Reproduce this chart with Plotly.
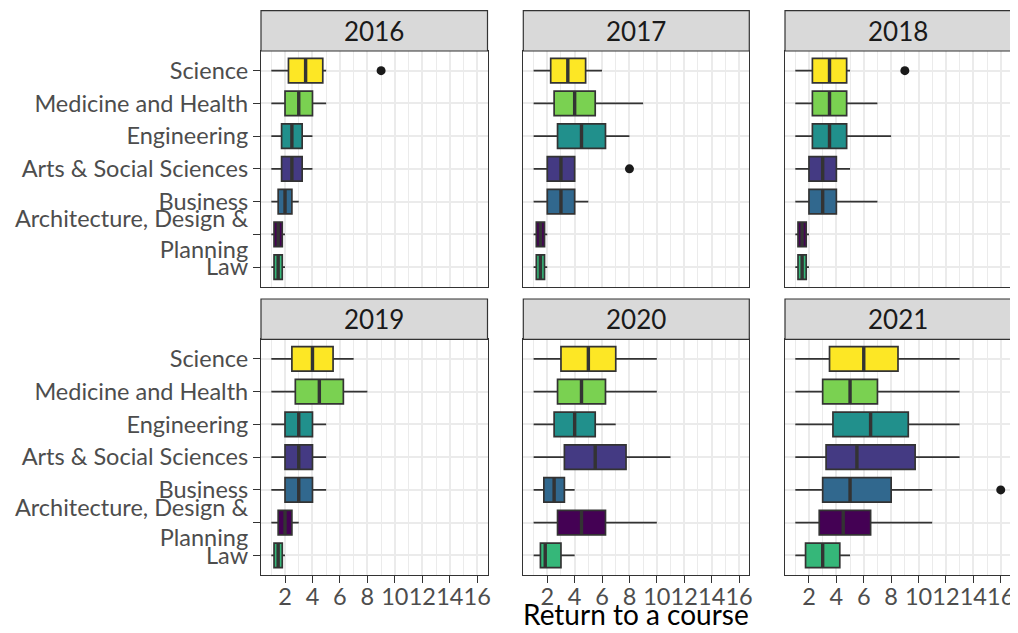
import plotly.graph_objects as go

# ---------------- data ----------------
years = [2016, 2017, 2018, 2019, 2020, 2021]
categories = ["Science", "Medicine and Health", "Engineering", "Arts & Social Sciences",
              "Business", "Architecture, Design & Planning", "Law"]
tick_labels = ["Science", "Medicine and Health", "Engineering", "Arts & Social Sciences",
               "Business", "Architecture, Design &<br>Planning", "Law"]
colors = ["#FDE725", "#7AD151", "#21908C", "#443A83", "#31688E", "#440154", "#35B779"]

# per year, per category (same order as categories): lower whisker, q1, median, q3, upper whisker
lower = {
    2016: [1, 1, 1, 1, 1, 1, 1],
    2017: [1, 1, 1, 1, 1, 1, 1],
    2018: [1, 1, 1, 1, 1, 1, 1],
    2019: [1, 1, 1, 1, 1, 1, 1],
    2020: [1, 1, 1, 1, 1, 1, 1],
    2021: [1, 1, 1, 1, 1, 1, 1],
}
q1 = {
    2016: [2.25, 2, 1.75, 1.75, 1.5, 1.2, 1.2],
    2017: [2.25, 2.5, 2.75, 2, 2, 1.2, 1.2],
    2018: [2.25, 2.25, 2.25, 2, 2, 1.2, 1.2],
    2019: [2.5, 2.75, 2, 2, 2, 1.5, 1.2],
    2020: [3, 2.75, 2.5, 3.25, 1.75, 2.75, 1.5],
    2021: [3.5, 3, 3.75, 3.25, 3, 2.75, 1.75],
}
median = {
    2016: [3.5, 3, 2.5, 2.5, 2, 1.5, 1.5],
    2017: [3.5, 4, 4.5, 3, 3, 1.5, 1.5],
    2018: [3.5, 3.5, 3.5, 3, 3, 1.5, 1.5],
    2019: [4, 4.5, 3, 3, 3, 2, 1.5],
    2020: [5, 4.5, 4, 5.5, 2.5, 4.5, 1.85],
    2021: [6, 5, 6.5, 5.5, 5, 4.5, 3],
}
q3 = {
    2016: [4.75, 4, 3.25, 3.25, 2.5, 1.8, 1.8],
    2017: [4.8, 5.5, 6.25, 4, 4, 1.8, 1.8],
    2018: [4.75, 4.75, 4.75, 4, 4, 1.8, 1.8],
    2019: [5.5, 6.25, 4, 4, 4, 2.5, 1.8],
    2020: [7, 6.25, 5.5, 7.75, 3.25, 6.25, 3],
    2021: [8.5, 7, 9.25, 9.75, 8, 6.5, 4.25],
}
upper = {
    2016: [5, 5, 4, 4, 3, 2, 2],
    2017: [6, 9, 8, 4, 5, 2, 2],
    2018: [5, 7, 8, 5, 7, 2, 2],
    2019: [7, 8, 5, 5, 5, 3, 2],
    2020: [10, 10, 7, 11, 4, 10, 4],
    2021: [13, 13, 13, 13, 11, 11, 5],
}
# outliers: (year, category, value)
outlier_year = [2016, 2017, 2018, 2021]
outlier_cat = ["Science", "Arts & Social Sciences", "Science", "Business"]
outlier_val = [9, 8, 9, 16]

x_ticks = [2, 4, 6, 8, 10, 12, 14, 16]
x_minor = [1, 3, 5, 7, 9, 11, 13, 15]

# ---------------- layout geometry ----------------
# the page body adds an 8px margin, so the figure is 8px smaller and coordinates shifted
OFF = 8
W, H = 1018 - OFF, 633 - OFF
cols_px = [(261 - OFF, 487.5 - OFF), (523.3 - OFF, 749.3 - OFF), (785 - OFF, 1011 - OFF)]
rows_px = [(51 - OFF, 286.7 - OFF), (339.3 - OFF, 575 - OFF)]
strips_px = [(10.7 - OFF, 51 - OFF), (299 - OFF, 339.3 - OFF)]

n_cat = len(categories)
pos = {c: n_cat - 1 - i for i, c in enumerate(categories)}
box_w = 0.75

BORDER = "#333333"
GRID = "#EBEBEB"
FONT = "Lato"
TICK_SIZE = 23.5

fig = go.Figure()
layout = dict(
    template="none",
    width=W, height=H,
    margin=dict(l=0, r=0, t=0, b=0, autoexpand=False),
    paper_bgcolor="white", plot_bgcolor="white",
    showlegend=False,
    font=dict(family=FONT),
    shapes=[], annotations=[],
)

for k, yr in enumerate(years):
    r, c = divmod(k, 3)
    n = k + 1
    xa = "x" if n == 1 else f"x{n}"
    ya = "y" if n == 1 else f"y{n}"
    # boxes
    for i, cat in enumerate(categories):
        p = pos[cat]
        fig.add_trace(go.Box(
            y=[p], q1=[q1[yr][i]], median=[median[yr][i]], q3=[q3[yr][i]],
            lowerfence=[lower[yr][i]], upperfence=[upper[yr][i]],
            orientation="h", width=box_w, whiskerwidth=0,
            fillcolor=colors[i], line=dict(color=BORDER, width=1.7),
            boxpoints=False, hoverinfo="skip", xaxis=xa, yaxis=ya,
        ))
        # thicker median line (ggplot fatten)
        fig.add_trace(go.Scatter(
            x=[median[yr][i], median[yr][i]], y=[p - box_w / 2, p + box_w / 2],
            mode="lines", line=dict(color=BORDER, width=3.4),
            hoverinfo="skip", xaxis=xa, yaxis=ya,
        ))
    # outliers
    ox = [v for y_, v in zip(outlier_year, outlier_val) if y_ == yr]
    oy = [pos[cname] for y_, cname in zip(outlier_year, outlier_cat) if y_ == yr]
    if ox:
        fig.add_trace(go.Scatter(
            x=ox, y=oy, mode="markers",
            marker=dict(color="#1A1A1A", size=9),
            hoverinfo="skip", xaxis=xa, yaxis=ya, cliponaxis=False,
        ))

    x0, x1 = cols_px[c]
    y0, y1 = rows_px[r]
    xkey = "xaxis" if n == 1 else f"xaxis{n}"
    ykey = "yaxis" if n == 1 else f"yaxis{n}"
    layout[xkey] = dict(
        domain=[x0 / W, x1 / W], range=[0.25, 16.75], anchor=ya,
        tickmode="array", tickvals=x_ticks, tickangle=0,
        showticklabels=(r == 1), ticks="outside" if r == 1 else "",
        ticklen=7, tickwidth=1.2, tickcolor=BORDER, ticklabelstandoff=-6,
        tickfont=dict(family=FONT, size=TICK_SIZE, color="#4D4D4D"),
        showgrid=True, gridcolor=GRID, gridwidth=1.6,
        minor=dict(tickmode="array", tickvals=x_minor, showgrid=True,
                   gridcolor=GRID, gridwidth=0.8, ticks=""),
        showline=True, mirror=True, linecolor=BORDER, linewidth=1.2,
        zeroline=False, fixedrange=True, automargin=False,
    )
    layout[ykey] = dict(
        domain=[1 - y1 / H, 1 - y0 / H], range=[-0.6, n_cat - 0.4], anchor=xa,
        tickmode="array", tickvals=[pos[cc] for cc in categories], ticktext=tick_labels,
        showticklabels=(c == 0), ticks="outside" if c == 0 else "",
        ticklen=7, tickwidth=1.2, tickcolor=BORDER,
        tickfont=dict(family=FONT, size=TICK_SIZE, color="#4D4D4D"),
        showgrid=True, gridcolor=GRID, gridwidth=1.6,
        showline=True, mirror=True, linecolor=BORDER, linewidth=1.2,
        zeroline=False, fixedrange=True, automargin=False,
    )
    # strip
    s0, s1 = strips_px[r]
    layout["shapes"].append(dict(
        type="rect", xref="paper", yref="paper",
        x0=x0 / W, x1=x1 / W, y0=1 - s1 / H, y1=1 - s0 / H,
        fillcolor="#D9D9D9", line=dict(color=BORDER, width=1.2), layer="above",
    ))
    layout["annotations"].append(dict(
        text=str(yr), xref="paper", yref="paper",
        x=(x0 + x1) / 2 / W, y=1 - (s0 + s1) / 2 / H,
        xanchor="center", yanchor="middle", showarrow=False,
        font=dict(family=FONT, size=26, color="#1A1A1A"),
    ))

layout["annotations"].append(dict(
    text="Return to a course", xref="paper", yref="paper",
    x=(cols_px[0][0] + cols_px[2][1]) / 2 / W, y=1 - (614 - OFF) / H,
    xanchor="center", yanchor="middle", showarrow=False,
    font=dict(family=FONT, size=28, color="black"),
))

fig.update_layout(**layout)
fig.write_html("out.html")
